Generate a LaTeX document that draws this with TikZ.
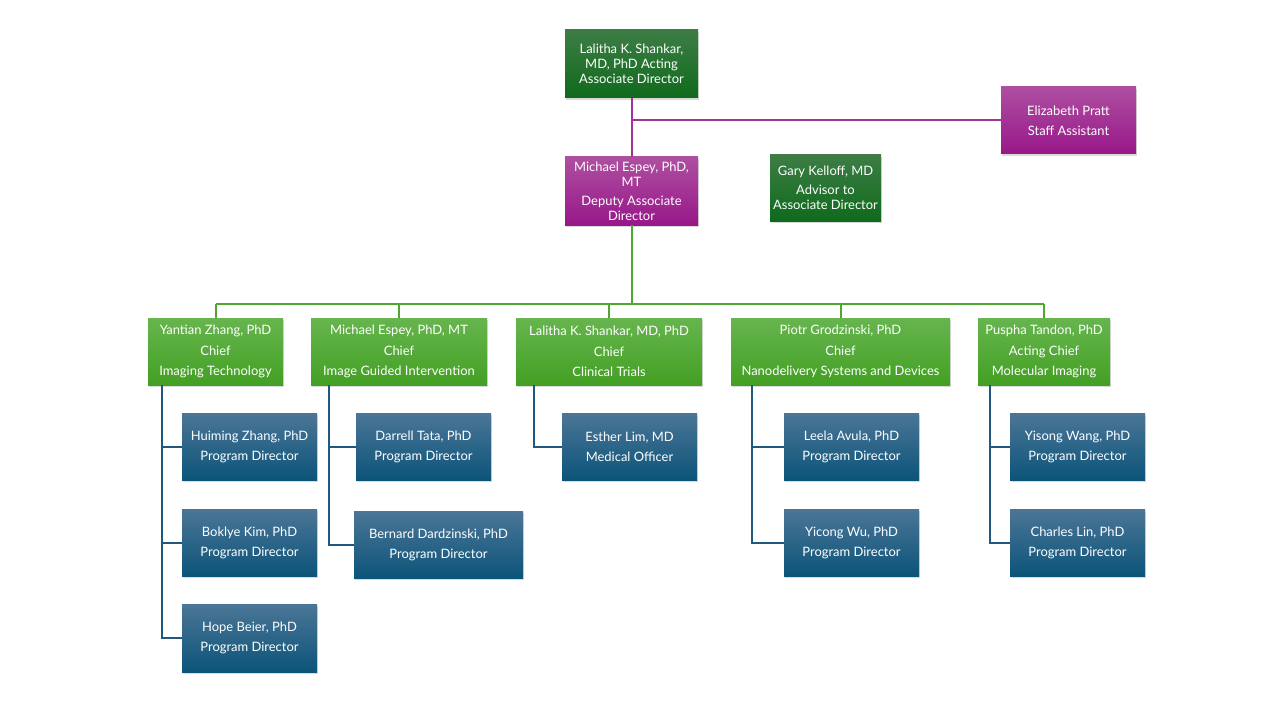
\documentclass[tikz,border=0pt]{standalone}
\usepackage{fontspec}
\setmainfont{Lato}
\usetikzlibrary{shadows}
\definecolor{dgT}{HTML}{3D7D45}
\definecolor{dgB}{HTML}{0F6A1C}
\definecolor{mgT}{HTML}{AE4FA0}
\definecolor{mgB}{HTML}{98178A}
\definecolor{cgT}{HTML}{66B54E}
\definecolor{cgB}{HTML}{43A023}
\definecolor{blT}{HTML}{4B7697}
\definecolor{blB}{HTML}{0C5479}
\definecolor{magline}{HTML}{A3339B}
\definecolor{grnline}{HTML}{4EA72E}
\definecolor{bluline}{HTML}{1F5980}
\tikzset{
  box/.style={rectangle, inner sep=0pt, align=center, text=white,
    font=\fontsize{13}{15}\selectfont,
    drop shadow={opacity=0.3, shadow xshift=1bp, shadow yshift=-2bp}},
  dgbox/.style={box, top color=dgT, bottom color=dgB},
  mgbox/.style={box, top color=mgT, bottom color=mgB},
  cgbox/.style={box, top color=cgT, bottom color=cgB, minimum height=67bp},
  blbox/.style={box, top color=blT, bottom color=blB, minimum height=67bp},
  mline/.style={draw=magline, line width=2bp},
  gline/.style={draw=grnline, line width=2bp},
  bline/.style={draw=bluline, line width=2bp},
}
\begin{document}
\begin{tikzpicture}[x=1bp, y=-1bp]
\useasboundingbox (0,0) rectangle (1280,720);
% top level
\node[dgbox, minimum width=133bp, minimum height=68bp] (top) at (631.5,64) {Lalitha K. Shankar,\\MD, PhD Acting\\Associate Director};
\node[mgbox, minimum width=133bp, minimum height=68bp] (dep) at (631.5,191) {Michael Espey, PhD,\\MT\\[4bp]Deputy Associate\\Director};
\node[mgbox, minimum width=135bp, minimum height=67bp] (eliz) at (1068.5,120.5) {Elizabeth Pratt\\[5bp]Staff Assistant};
\node[dgbox, minimum width=111bp, minimum height=66bp] (gary) at (825.5,188) {Gary Kelloff, MD\\[4bp]Advisor to\\Associate Director};
% chiefs
\node[cgbox, minimum width=135bp] (c1) at (215.5,351.5) {Yantian Zhang, PhD\\[5.5bp]Chief\\[5.5bp]Imaging Technology};
\node[cgbox, minimum width=176bp] (c2) at (399,351.5) {Michael Espey, PhD, MT\\[5.5bp]Chief\\[5.5bp]Image Guided Intervention};
\node[cgbox, minimum width=186bp] (c3) at (609,351.5) {Lalitha K. Shankar, MD, PhD\\[5.5bp]Chief\\[5.5bp]Clinical Trials};
\node[cgbox, minimum width=219bp] (c4) at (840.5,351.5) {Piotr Grodzinski, PhD\\[5.5bp]Chief\\[5.5bp]Nanodelivery Systems and Devices};
\node[cgbox, minimum width=132bp] (c5) at (1044,351.5) {Puspha Tandon, PhD\\[5.5bp]Acting Chief\\[5.5bp]Molecular Imaging};
% program directors
\node[blbox, minimum width=135bp] (s11) at (249.5,446.5) {Huiming Zhang, PhD\\[5bp]Program Director};
\node[blbox, minimum width=135bp] (s12) at (249.5,542.5) {Boklye Kim, PhD\\[5bp]Program Director};
\node[blbox, minimum width=135bp, minimum height=68bp] (s13) at (249.5,638) {Hope Beier, PhD\\[5bp]Program Director};
\node[blbox, minimum width=135bp] (s21) at (423.5,446.5) {Darrell Tata, PhD\\[5bp]Program Director};
\node[blbox, minimum width=169bp] (s22) at (438.5,544.5) {Bernard Dardzinski, PhD\\[5bp]Program Director};
\node[blbox, minimum width=135bp] (s31) at (629.5,446.5) {Esther Lim, MD\\[5bp]Medical Officer};
\node[blbox, minimum width=135bp] (s41) at (851.5,446.5) {Leela Avula, PhD\\[5bp]Program Director};
\node[blbox, minimum width=135bp] (s42) at (851.5,542.5) {Yicong Wu, PhD\\[5bp]Program Director};
\node[blbox, minimum width=135bp] (s51) at (1077.5,446.5) {Yisong Wang, PhD\\[5bp]Program Director};
\node[blbox, minimum width=135bp] (s52) at (1077.5,542.5) {Charles Lin, PhD\\[5bp]Program Director};
% connectors
\coordinate (bus) at (632,304);
\draw[mline] (top.south) -- (dep.north);
\draw[mline] (top.south |- eliz.west) -- (eliz.west);
\draw[gline] (dep.south) -- (dep.south |- bus);
\draw[gline] (bus -| c1.north) -- (bus -| c5.north);
\foreach \c in {c1,c2,c3,c4,c5} \draw[gline] (bus -| \c.north) -- (\c.north);
\coordinate (b1) at ([xshift=14bp]c1.south west);
\coordinate (b2) at ([xshift=18bp]c2.south west);
\coordinate (b3) at ([xshift=18bp]c3.south west);
\coordinate (b4) at ([xshift=21bp]c4.south west);
\coordinate (b5) at ([xshift=12bp]c5.south west);
\draw[bline] (b1) |- (s11.west);
\draw[bline] (b1) |- (s12.west);
\draw[bline] (b1) |- (s13.west);
\draw[bline] (b2) |- (s21.west);
\draw[bline] (b2) |- (s22.west);
\draw[bline] (b3) |- (s31.west);
\draw[bline] (b4) |- (s41.west);
\draw[bline] (b4) |- (s42.west);
\draw[bline] (b5) |- (s51.west);
\draw[bline] (b5) |- (s52.west);
\end{tikzpicture}
\end{document}
